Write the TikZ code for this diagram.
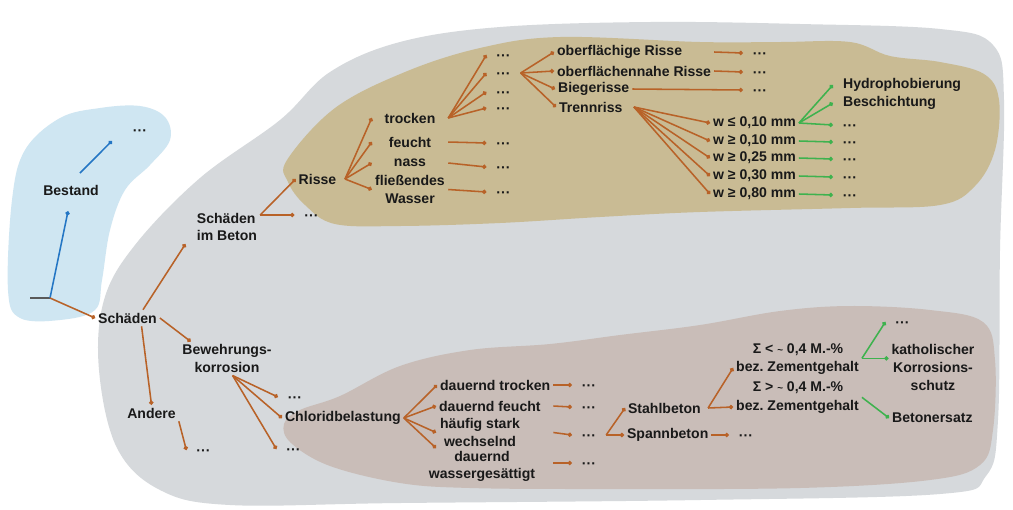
\documentclass[tikz,border=0pt]{standalone}
\usepackage{fontspec}
\setmainfont{Liberation Sans}
\usetikzlibrary{arrows.meta}

\definecolor{brn}{RGB}{184,98,40}
\definecolor{grn}{RGB}{62,178,78}
\definecolor{blu}{RGB}{36,118,196}
\definecolor{bgray}{RGB}{214,217,220}
\definecolor{risstan}{RGB}{201,187,148}
\definecolor{chlmauve}{RGB}{201,189,184}
\definecolor{lblue}{RGB}{207,230,242}
\definecolor{txt}{RGB}{25,25,25}

\begin{document}
\begin{tikzpicture}[x=0.025cm, y=-0.025cm,
lbl/.style={
        font=\fontsize{10}{12.5}\selectfont\bfseries,
        text=txt,
        inner sep=2pt,
        align=center,
    },
more/.style={lbl, inner xsep=7pt, text height=1.4ex, text depth=0pt},
rcol/.style={lbl, text width=50pt},   % Risse column
br/.style={draw=brn, line width=1.1pt, -{Circle[length=3pt]}},
gr/.style={br, draw=grn},
bl/.style={br, draw=blu},
 ]
\useasboundingbox (0,0) rectangle (1013,509);
\fill[white] (0,0) rectangle (1013,509);

% areas
\fill[bgray] plot[smooth cycle, tension=.6] coordinates {(280,120) (330,72) (400,42) (500,27) (650,22) (800,24) (940,29) (993,45) (1004,100) (1000,250) (998,420) (986,476) (940,494) (700,500) (400,503) (230,505) (160,490) (117,448) (99,370) (104,300) (135,245) (200,178)};
\fill[lblue] plot[smooth cycle, tension=.6] coordinates {(100,108) (140,106) (165,117) (170,140) (150,165) (125,190) (110,230) (102,280) (95,310) (60,320) (20,318) (8,290) (12,200) (25,150) (60,118)};
\fill[risstan] plot[smooth cycle, tension=.6] coordinates {(287,160) (335,108) (405,72) (480,48) (560,37) (700,42) (780,42) (850,42) (890,56) (940,62) (984,74) (999,100) (995,150) (975,186) (940,205) (850,208) (700,212) (600,217) (500,223) (400,226) (335,224) (305,205) (288,182)};
\fill[chlmauve] plot[smooth cycle, tension=.6] coordinates {(284,424) (300,410) (340,396) (400,366) (470,350) (550,344) (620,335) (700,325) (780,311) (850,306) (930,310) (983,322) (995,360) (993,430) (980,465) (930,480) (800,488) (600,489) (470,488) (400,483) (330,466) (291,443)};

\coordinate (root) at (50,298);
\coordinate (stub) at (30,298);

\node[lbl] (bestand) at (71,190) {Bestand};
\node[more] (bdots) at (140,130) {···};
\node[lbl] (schaeden) at (127.5,318) {Schäden};
\node[lbl, align=left] (beton) at (227,227) {Schäden\\im Beton};
\node[lbl] (bew) at (227,358.5) {Bewehrungs-\\korrosion};
\node[lbl] (andere) at (151.5,413) {Andere};
\node[more] (adots) at (203.5,450) {···};

% Risse
\node[lbl] (risse) at (317.5,179) {Risse};
\node[more] (bpdots) at (311.5,215) {···};
\node[rcol] (trocken) at (410,118) {trocken};
\node[rcol] (feucht) at (410,142) {feucht};
\node[rcol] (nass) at (410,163) {nass};
\node[rcol] (fliess) at (410,189.5) {fließendes\\Wasser};
\node[more] (t1) at (503.5,55) {···};
\node[more] (t2) at (503.5,73) {···};
\node[more] (t3) at (503.5,92) {···};
\node[more] (t4) at (503.5,108) {···};
\node[more] (fdots) at (503.5,143) {···};
\node[more] (ndots) at (503.5,167) {···};
\node[more] (wdots) at (503.5,192) {···};
\node[lbl, anchor=west] (ober1) at (554,52) {oberflächige Risse};
\node[lbl, anchor=west] (ober2) at (554,71) {oberflächennahe Risse};
\node[lbl, anchor=west] (bieg) at (555,89) {Biegerisse};
\node[lbl, anchor=west] (trenn) at (556,107) {Trennriss};
\node[more] (o1dots) at (760,53) {···};
\node[more] (o2dots) at (760,72) {···};
\node[more] (bgdots) at (760,90) {···};
\node[lbl, anchor=west] (w1) at (710,123) {w ≤ 0,10 mm};
\node[lbl, anchor=west] (w2) at (710,141) {w ≥ 0,10 mm};
\node[lbl, anchor=west] (w3) at (710,158) {w ≥ 0,25 mm};
\node[lbl, anchor=west] (w4) at (710,176) {w ≥ 0,30 mm};
\node[lbl, anchor=west] (w5) at (710,194) {w ≥ 0,80 mm};
\node[lbl, anchor=west] (hydro) at (840,85) {Hydrophobierung};
\node[lbl, anchor=west] (besch) at (840,103) {Beschichtung};
\node[more] (g1) at (850,125) {···};
\node[more] (g2) at (850,142) {···};
\node[more] (g3) at (850,159) {···};
\node[more] (g4) at (850,177) {···};
\node[more] (g5) at (850,195) {···};

% Chloride
\node[lbl, anchor=west] (chlor) at (282,418) {Chloridbelastung};
\node[more] (bk1) at (295,397) {···};
\node[more] (bk3) at (293.5,449) {···};
\node[lbl, anchor=west] (dtr) at (437,385) {dauernd trocken};
\node[lbl, anchor=west] (dfe) at (436,406) {dauernd feucht};
\node[lbl] (haeuf) at (480,432.5) {häufig stark\\wechselnd};
\node[lbl] (dwg) at (482,466.5) {dauernd\\wassergesättigt};
\node[more] (c1) at (589,385) {···};
\node[more] (c2) at (589,407) {···};
\node[more] (c3) at (589,435) {···};
\node[more] (c4) at (589,463) {···};
\node[lbl, anchor=west] (stahl) at (625,408) {Stahlbeton};
\node[lbl, anchor=west] (spann) at (624,435) {Spannbeton};
\node[more] (spdots) at (746,435) {···};
\node[lbl] (sig1) at (798,350) {Σ < {\scriptsize\textasciitilde} 0,4 M.-\%};
\node[lbl] (zem1) at (797.5,368) {bez.\ Zementgehalt};
\node[lbl] (sig2) at (798,388) {Σ > {\scriptsize\textasciitilde} 0,4 M.-\%};
\node[lbl] (zem2) at (797.5,407) {bez.\ Zementgehalt};
\node[more] (kdots) at (902.5,322) {···};
\node[lbl] (kath) at (933,367.5) {katholischer\\Korrosions-\\schutz};
\node[lbl, anchor=west] (ersatz) at (889,418) {Betonersatz};

% Bestand
\draw[line width=1.1pt, black!65] (stub) -- (root);
\draw[bl] (root) -- ([shift={(-3,13)}]bestand.south);
\draw[bl] ([shift={(9,-17)}]bestand.center) -- ([shift={(-11,11)}]bdots.west);

% Schaeden
\draw[br] (root) -- (schaeden.west);
\draw[br] ([xshift=11pt]schaeden.north) -- ([xshift=-6pt]beton.south west);
\draw[br] (schaeden.east) -- ([xshift=8pt]bew.north west);
\draw[br] ([xshift=10pt]schaeden.south) -- (andere.north);
\draw[br] (andere.south east) -- (adots.west);

\draw[br] (beton.east |- bpdots.west) -- (risse.west);
\draw[br] (beton.east |- bpdots.west) -- (bpdots.west);
\foreach \n in {trocken,feucht,nass,fliess}
    \draw[br] ([xshift=4pt]risse.east) -- (\n.west);
\foreach \a/\b in {feucht/fdots,nass/ndots,fliess/wdots}
    \draw[br] (\a.east) -- (\b.west);
\foreach \n in {t1,t2,t3,t4}
    \draw[br] (trocken.east) -- (\n.west);
\foreach \n in {ober1,ober2,bieg,trenn}
    \draw[br] (t2.east) -- (\n.west);
\draw[br] (ober1.east -| ober2.east) -- (o1dots.west);
\draw[br] (ober2.east) -- (o2dots.west);
\draw[br] (bieg.east) -- (bgdots.west);
\foreach \n in {w1,w2,w3,w4,w5}
    \draw[br] ([xshift=6pt]trenn.east) -- (\n.west);
\foreach \n in {hydro,besch}
    \draw[gr] (w1.east) -- (\n.west -| g1.west);
\draw[gr] (w1.east) -- (g1.west);
\foreach \i in {2,...,5}
    \draw[gr] (w\i.east) -- (g\i.west);

% Bewehrungskorrosion
\foreach \n in {bk1,chlor,bk3}
    \draw[br] ([xshift=4pt]bew.south) -- (\n.west);
\draw[br] (chlor.east) -- (dtr.west);
\draw[br] (chlor.east) -- (dfe.west);
\draw[br] (chlor.east) -- (haeuf.west -| dfe.west);
\draw[br] (chlor.east) -- (dwg.north -| dfe.west);
\draw[br] (dtr.east) -- (c1.west);
\draw[br] (dfe.east -| dtr.east) -- (c2.west);
\draw[br] (haeuf.east -| dtr.east) -- (c3.west);
\draw[br] (c4.west -| dtr.east) -- (c4.west);
\draw[br] (c3.east) -- (stahl.west);
\draw[br] (c3.east) -- (spann.west);
\draw[br] (spann.east) -- (spdots.west);
\draw[br] ([xshift=3pt]stahl.east) -- (zem1.west);
\draw[br] ([xshift=3pt]stahl.east) -- (zem2.west);
\draw[gr] (zem1.north east) -- (kdots.west);
\draw[gr] (zem1.north east) -- (kath.west |- zem1.north east);
\draw[gr] (zem2.north east) -- (ersatz.west);
\end{tikzpicture}
\end{document}
